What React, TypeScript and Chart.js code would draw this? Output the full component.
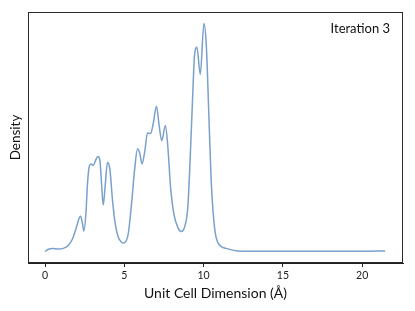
import React, { useEffect, useRef } from "react";
import { Chart, registerables } from "chart.js";

Chart.register(...registerables);

const xValues = [0, 0.21, 0.48, 0.84, 1.15, 1.47, 1.72, 1.95, 2.16, 2.24, 2.37, 2.45, 2.58, 2.68, 2.79, 2.89, 3.04, 3.19, 3.33, 3.46, 3.56, 3.67, 3.79, 3.94, 4.09, 4.26, 4.42, 4.61, 4.82, 4.97, 5.24, 5.45, 5.66, 5.83, 5.97, 6.12, 6.29, 6.46, 6.65, 6.81, 7.03, 7.19, 7.36, 7.59, 7.75, 7.92, 8.13, 8.38, 8.58, 8.81, 9.01, 9.18, 9.33, 9.43, 9.58, 9.79, 10.02, 10.17, 10.33, 10.48, 10.69, 10.9, 11.43, 12.16, 13.5, 15, 17.5, 20, 21.45];
const densityValues = [0, 0.01, 0.014, 0.011, 0.014, 0.028, 0.054, 0.1, 0.148, 0.155, 0.119, 0.09, 0.17, 0.301, 0.374, 0.384, 0.378, 0.4, 0.417, 0.4, 0.301, 0.204, 0.287, 0.391, 0.359, 0.221, 0.125, 0.065, 0.041, 0.038, 0.075, 0.206, 0.367, 0.451, 0.432, 0.384, 0.439, 0.52, 0.517, 0.556, 0.637, 0.556, 0.486, 0.553, 0.454, 0.279, 0.163, 0.105, 0.088, 0.11, 0.2, 0.454, 0.716, 0.862, 0.895, 0.777, 1.0, 0.905, 0.6, 0.308, 0.105, 0.039, 0.014, 0.003, 0.001, 0.001, 0.001, 0.001, 0.003];
const xTicks = [0, 5, 10, 15, 20];
const xTitle = "Unit Cell Dimension (Å)";
const yTitle = "Density";
const annotation = "Iteration 3";
const FONT = "Lato, 'DejaVu Sans', sans-serif";

export default function App() {
  const ref = useRef<HTMLCanvasElement>(null);
  useEffect(() => {
    const prevMargin = document.body.style.margin;
    document.body.style.margin = "0";
    const framePlugin = {
      id: "frame",
      afterDraw(chart: any) {
        const { ctx, chartArea } = chart;
        ctx.save();
        ctx.strokeStyle = "#2a2a2a";
        ctx.lineWidth = 1;
        ctx.strokeRect(
          Math.round(chartArea.left) + 0.5,
          Math.round(chartArea.top) + 0.5,
          Math.round(chartArea.right - chartArea.left) - 1,
          Math.round(chartArea.bottom - chartArea.top) - 1
        );
        ctx.fillStyle = "#111";
        ctx.font = "13px " + FONT;
        ctx.textAlign = "right";
        ctx.textBaseline = "middle";
        ctx.fillText(annotation, chartArea.right - 13, chartArea.top + 17);
        ctx.restore();
      },
    };
    const chart = new Chart(ref.current!, {
      type: "line",
      data: {
        datasets: [
          {
            data: xValues.map((x, i) => ({ x, y: densityValues[i] })),
            borderColor: "rgb(122,160,204)",
            borderWidth: 1.5,
            pointRadius: 0,
            cubicInterpolationMode: "monotone",
            fill: false,
          },
        ],
      },
      options: {
        animation: false,
        responsive: false,
        layout: { padding: { top: 12, right: 12, left: 0, bottom: 0 } },
        plugins: { legend: { display: false }, tooltip: { enabled: false } },
        scales: {
          x: {
            type: "linear",
            min: -1.075,
            max: 22.575,
            afterBuildTicks: (s: any) => {
              s.ticks = xTicks.map((v) => ({ value: v }));
            },
            afterFit: (s: any) => {
              s.height = 48;
            },
            grid: { drawOnChartArea: false, drawTicks: true, tickLength: 4, color: "#222" },
            border: { display: true, color: "#222" },
            ticks: { color: "#222", font: { size: 10.5, family: FONT }, padding: 2, maxRotation: 0 },
            title: {
              display: true,
              text: xTitle,
              color: "#111",
              font: { size: 14, family: FONT },
              padding: { top: 2, bottom: 9 },
            },
          },
          y: {
            min: -0.05,
            max: 1.05,
            afterFit: (s: any) => {
              s.width = 28;
            },
            grid: { display: false },
            border: { display: false },
            ticks: { display: false },
            title: {
              display: true,
              text: yTitle,
              color: "#111",
              font: { size: 13.5, family: FONT },
              padding: { top: 8, bottom: 0 },
            },
          },
        },
      },
      plugins: [framePlugin],
    } as any);
    return () => {
      chart.destroy();
      document.body.style.margin = prevMargin;
    };
  }, []);
  return (
    <div style={{ width: 415, height: 311, position: "relative" }}>
      <canvas ref={ref} width={415} height={311} style={{ width: 415, height: 311 }} />
    </div>
  );
}
